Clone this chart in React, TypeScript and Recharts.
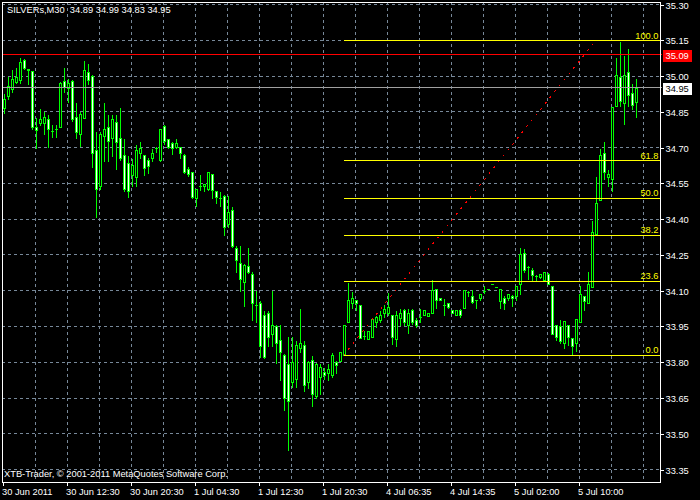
import { ComposedChart, Bar, XAxis, YAxis, CartesianGrid, ReferenceLine } from "recharts"

// SILVERs M30 bars (open / high / low / close)
const opens = [
  34.867, 34.916, 34.946, 34.976, 34.983, 35.069, 35.03, 35.02, 34.788, 34.804,
  34.804, 34.818, 34.77, 34.777, 34.788, 34.978, 34.948, 34.978, 34.828, 34.756,
  34.825, 35.019, 35.0, 34.689, 34.537, 34.749, 34.788, 34.74, 34.807, 34.74,
  34.669, 34.637, 34.586, 34.575, 34.677, 34.668, 34.649, 34.658, 34.697, 34.647,
  34.791, 34.737, 34.718, 34.704, 34.704, 34.668, 34.61, 34.598, 34.489, 34.537,
  34.537, 34.526, 34.589, 34.519, 34.489, 34.498, 34.38, 34.44, 34.28, 34.215,
  34.136, 34.203, 34.168, 34.039, 34.05, 33.998, 34.008, 33.92, 33.951, 33.893,
  33.83, 33.793, 33.719, 33.729, 33.858, 33.872, 33.719, 33.809, 33.659, 33.74,
  33.76, 33.756, 33.747, 33.8, 33.806, 33.829, 33.969, 34.049, 34.06, 34.039,
  33.909, 33.897, 33.907, 33.969, 33.979, 34.006, 34.006, 34.0, 33.897, 33.986,
  34.021, 33.958, 34.021, 33.979, 33.988, 34.0, 33.996, 34.008, 34.109, 34.071,
  34.039, 34.05, 34.021, 34.0, 34.021, 34.029, 34.095, 34.078, 34.06, 34.07,
  34.099, 34.109, 34.13, 34.115, 34.057, 34.071, 34.071, 34.078, 34.077, 34.13,
  34.259, 34.199, 34.188, 34.16, 34.157, 34.147, 34.168, 34.118, 33.958, 33.951,
  33.879, 33.958, 33.9, 33.879, 33.969, 34.078, 34.049, 34.115, 34.338, 34.48,
  34.677, 34.575, 34.568, 34.874, 34.996, 34.888, 35.017, 34.927, 34.89
]
const highs = [
  34.93, 35.0, 35.03, 35.037, 35.079, 35.075, 35.032, 35.025, 34.828, 34.867,
  34.853, 34.839, 34.799, 34.8, 34.978, 35.037, 34.992, 34.986, 34.892, 34.853,
  35.069, 35.055, 35.008, 34.77, 34.77, 34.891, 34.841, 34.841, 34.84, 34.87,
  34.742, 34.67, 34.658, 34.714, 34.728, 34.67, 34.661, 34.697, 34.707, 34.782,
  34.799, 34.742, 34.728, 34.739, 34.707, 34.679, 34.624, 34.601, 34.527, 34.589,
  34.548, 34.6, 34.59, 34.519, 34.519, 34.505, 34.501, 34.457, 34.29, 34.29,
  34.218, 34.282, 34.181, 34.102, 34.06, 34.018, 34.021, 34.102, 33.96, 33.96,
  33.839, 33.909, 33.909, 33.893, 34.029, 33.893, 33.809, 33.83, 33.801, 33.795,
  33.779, 33.795, 33.844, 33.809, 33.842, 33.958, 34.136, 34.099, 34.06, 34.046,
  33.937, 33.93, 33.981, 34.0, 34.018, 34.046, 34.095, 34.0, 34.018, 34.029,
  34.029, 34.029, 34.029, 33.99, 34.029, 34.021, 34.01, 34.15, 34.109, 34.072,
  34.071, 34.051, 34.021, 34.021, 34.029, 34.109, 34.102, 34.109, 34.067, 34.088,
  34.125, 34.109, 34.13, 34.115, 34.109, 34.081, 34.088, 34.088, 34.118, 34.283,
  34.28, 34.209, 34.199, 34.171, 34.168, 34.18, 34.178, 34.118, 33.958, 33.981,
  33.972, 33.958, 33.9, 33.981, 34.125, 34.078, 34.181, 34.398, 34.579, 34.697,
  34.728, 34.61, 34.87, 35.079, 35.148, 35.087, 35.118, 34.971, 34.99
]
const lows = [
  34.846, 34.902, 34.934, 34.971, 34.971, 35.03, 34.967, 34.78, 34.7, 34.795,
  34.756, 34.703, 34.745, 34.745, 34.786, 34.934, 34.892, 34.81, 34.74, 34.707,
  34.823, 34.965, 34.617, 34.408, 34.527, 34.644, 34.644, 34.665, 34.611, 34.65,
  34.519, 34.495, 34.54, 34.537, 34.658, 34.586, 34.594, 34.644, 34.682, 34.644,
  34.717, 34.697, 34.675, 34.697, 34.658, 34.594, 34.582, 34.49, 34.457, 34.523,
  34.516, 34.524, 34.489, 34.466, 34.457, 34.335, 34.369, 34.285, 34.178, 34.1,
  34.035, 34.173, 33.976, 33.97, 33.823, 33.816, 33.868, 33.868, 33.798, 33.726,
  33.598, 33.431, 33.698, 33.698, 33.842, 33.681, 33.691, 33.617, 33.649, 33.667,
  33.729, 33.726, 33.74, 33.754, 33.806, 33.829, 33.969, 34.029, 34.018, 33.9,
  33.897, 33.897, 33.907, 33.948, 33.968, 33.99, 33.997, 33.876, 33.868, 33.955,
  33.955, 33.921, 33.96, 33.948, 33.969, 34.0, 33.994, 34.008, 34.029, 34.06,
  33.997, 34.028, 34.006, 34.0, 33.99, 34.029, 34.077, 34.049, 34.029, 34.06,
  34.09, 34.109, 34.13, 34.115, 34.029, 34.025, 34.06, 34.035, 34.063, 34.085,
  34.178, 34.148, 34.146, 34.139, 34.155, 34.147, 34.13, 33.92, 33.893, 33.879,
  33.858, 33.872, 33.83, 33.848, 33.969, 34.018, 34.049, 34.115, 34.338, 34.48,
  34.568, 34.54, 34.516, 34.874, 34.874, 34.798, 34.874, 34.86, 34.83
]
const closes = [
  34.905, 34.958, 34.986, 34.996, 35.058, 35.034, 35.027, 34.788, 34.774, 34.818,
  34.828, 34.777, 34.771, 34.778, 34.971, 34.955, 34.969, 34.818, 34.767, 34.839,
  35.027, 34.985, 34.677, 34.526, 34.756, 34.777, 34.728, 34.818, 34.725, 34.658,
  34.526, 34.516, 34.626, 34.69, 34.697, 34.616, 34.624, 34.679, 34.698, 34.777,
  34.728, 34.704, 34.697, 34.718, 34.677, 34.596, 34.589, 34.495, 34.526, 34.538,
  34.547, 34.598, 34.523, 34.495, 34.49, 34.366, 34.432, 34.287, 34.23, 34.15,
  34.209, 34.178, 34.049, 34.04, 33.869, 33.821, 33.907, 33.958, 33.879, 33.842,
  33.649, 33.639, 33.8, 33.872, 33.879, 33.705, 33.8, 33.667, 33.793, 33.779,
  33.747, 33.77, 33.83, 33.788, 33.842, 33.958, 34.06, 34.071, 34.049, 33.9,
  33.91, 33.93, 33.981, 33.99, 34.0, 34.023, 34.03, 33.907, 34.0, 34.008,
  33.969, 34.008, 33.969, 33.958, 33.989, 34.021, 34.008, 34.102, 34.06, 34.06,
  34.04, 34.03, 34.006, 34.021, 34.0, 34.102, 34.096, 34.053, 34.061, 34.088,
  34.1, 34.109, 34.13, 34.115, 34.109, 34.049, 34.088, 34.07, 34.118, 34.252,
  34.185, 34.2, 34.164, 34.161, 34.168, 34.18, 34.13, 33.92, 33.907, 33.89,
  33.972, 33.907, 33.868, 33.981, 34.088, 34.057, 34.13, 34.345, 34.468, 34.67,
  34.596, 34.589, 34.87, 35.006, 34.895, 35.006, 34.92, 34.878, 34.95
]

// time axis labels, one every 16 bars
const timeLabels = [
  "30 Jun 2011", "30 Jun 12:30", "30 Jun 20:30", "1 Jul 04:30", "1 Jul 12:30",
  "1 Jul 20:30", "4 Jul 06:35", "4 Jul 14:35", "5 Jul 02:00", "5 Jul 10:00"
]
const priceTicks = [
  33.35, 33.5, 33.65, 33.8, 33.95, 34.1, 34.25, 34.4, 34.55, 34.7, 34.85, 35.0, 35.15, 35.3
]
const fibLevels = [0, 23.6, 38.2, 50, 61.8, 100]
const fibLow = 33.829 // bar 85 low
const fibHigh = 35.148 // bar 154 high
const redLevel = 35.09
const bidLevel = 34.95

const SLOTS = 165 // bars + right shift
const FONT = "'Liberation Sans', Arial, sans-serif"
const FS = 9.3

const candles = Array.from({ length: SLOTS }, (_, i) =>
  i < opens.length
    ? { i, o: opens[i], h: highs[i], l: lows[i], c: closes[i], range: [lows[i], highs[i]] }
    : { i, range: null }
)
const labelIdx = timeLabels.map((_, k) => k * 16)
const gridIdx = Array.from({ length: 20 }, (_, k) => (k + 1) * 8)

const snap = (v: number) => Math.round(v) + 0.5

// candlestick drawn inside the [low, high] bar rectangle
const Candle = (props: any) => {
  const { x, y, width, height, payload } = props
  if (!payload || payload.o == null) return <g />
  const { o, h, l, c } = payload
  const span = h - l
  const toY = (p: number) => (span > 0 ? y + ((h - p) / span) * height : y)
  const col = Math.floor(x + width / 2)
  const cx = col + 0.5
  const yH = snap(toY(h))
  const yL = snap(toY(l))
  const yO = snap(toY(o))
  const yC = snap(toY(c))
  const top = Math.min(yO, yC)
  const bot = Math.max(yO, yC)
  return (
    <g>
      {yL > yH && <line x1={cx} x2={cx} y1={yH} y2={yL} stroke="#00ff00" strokeWidth={1} />}
      {bot - top < 1 ? (
        <line x1={col - 1} x2={col + 2} y1={top} y2={top} stroke="#00ff00" strokeWidth={1} />
      ) : (
        <rect
          x={col - 0.5}
          y={top}
          width={2}
          height={bot - top}
          fill={c > o ? "#000000" : "#ffffff"}
          stroke="#00ff00"
          strokeWidth={1}
        />
      )}
    </g>
  )
}

const TimeTick = (props: any) => {
  const { x, y, payload } = props
  const col = Math.floor(x)
  return (
    <g>
      <line x1={col + 0.5} x2={col + 0.5} y1={y} y2={y + 4} stroke="#ffffff" />
      <text x={col - 1} y={y + 13} fill="#ffffff" fontSize={FS} fontFamily={FONT} textAnchor="start">
        {timeLabels[payload.value / 16]}
      </text>
    </g>
  )
}

const PriceTick = (props: any) => {
  const { x, y, payload } = props
  const row = snap(y)
  return (
    <g>
      <line x1={x - 0.5} x2={x + 2.5} y1={row} y2={row} stroke="#ffffff" />
      <text x={x + 4} y={row + 3.3} fill="#ffffff" fontSize={FS} fontFamily={FONT}>
        {Number(payload.value).toFixed(2)}
      </text>
    </g>
  )
}

const boxLabel = (text: string, bg: string, fg: string) => (props: any) => {
  const vb = props.viewBox || {}
  const right = vb.x + vb.width
  const row = snap(vb.y)
  return (
    <g>
      <rect x={right + 1.5} y={row - 6} width={29} height={12} fill={bg} />
      <text x={right + 4} y={row + 3.3} fill={fg} fontSize={FS} fontFamily={FONT}>
        {text}
      </text>
    </g>
  )
}

const fibLabel = (text: string) => (props: any) => {
  const vb = props.viewBox || {}
  return (
    <text
      x={vb.x + vb.width - 1}
      y={vb.y - 2}
      fill="#ffff00"
      fontSize={FS}
      fontFamily={FONT}
      textAnchor="end"
    >
      {text}
    </text>
  )
}

export default function App() {
  return (
    <div
      style={{
        position: "absolute",
        left: 0,
        top: 0,
        width: 700,
        height: 500,
        background: "#000000",
        overflow: "hidden",
        fontFamily: FONT,
        shapeRendering: "crispEdges"
      }}
    >
      <ComposedChart
        width={700}
        height={500}
        data={candles}
        margin={{ top: 2, right: 0, bottom: 0, left: 1.5 }}
        barSize={3}
      >
        <CartesianGrid stroke="#778899" strokeDasharray="3 3" verticalValues={gridIdx} />
        <XAxis
          dataKey="i"
          type="category"
          ticks={labelIdx}
          interval={0}
          tick={TimeTick}
          tickSize={0}
          tickMargin={0}
          tickLine={false}
          axisLine={false}
          height={18}
        />
        <YAxis
          orientation="right"
          type="number"
          width={38.5}
          domain={[33.298, 35.3105]}
          allowDataOverflow
          ticks={priceTicks}
          interval={0}
          tick={PriceTick}
          tickSize={0}
          tickMargin={0}
          tickLine={false}
          axisLine={false}
        />
        <ReferenceLine y={bidLevel} stroke="#a0a0a0" label={boxLabel(bidLevel.toFixed(2), "#ffffff", "#000000")} />
        <Bar dataKey="range" shape={Candle} isAnimationActive={false} />
        <ReferenceLine
          segment={[{ x: 85, y: fibLow }, { x: 148, y: fibHigh }]}
          stroke="#ff0000"
          strokeDasharray="2 5.5"
        />
        {fibLevels.map((lvl) => {
          const p = fibLow + ((fibHigh - fibLow) * lvl) / 100
          return (
            <ReferenceLine
              key={lvl}
              segment={[{ x: 85, y: p }, { x: SLOTS - 1, y: p }]}
              stroke="#ffff00"
              label={fibLabel(lvl.toFixed(1))}
            />
          )
        })}
        <ReferenceLine y={redLevel} stroke="#ff0000" label={boxLabel(redLevel.toFixed(2), "#ff0000", "#ffffff")} />
      </ComposedChart>
      <div
        style={{
          position: "absolute",
          left: 2,
          top: 2,
          width: 659,
          height: 481,
          boxSizing: "border-box",
          border: "1px solid #ffffff",
          pointerEvents: "none"
        }}
      />
      <div style={{ position: "absolute", left: 7, top: 6, fontSize: FS, lineHeight: "9px", color: "#ffffff", whiteSpace: "pre" }}>
        {"SILVERs,M30  34.89 34.99 34.83 34.95"}
      </div>
      <div style={{ position: "absolute", left: 4, top: 470, fontSize: FS, lineHeight: "9px", color: "#ffffff", whiteSpace: "pre" }}>
        {"XTB-Trader, © 2001-2011 MetaQuotes Software Corp."}
      </div>
    </div>
  )
}
